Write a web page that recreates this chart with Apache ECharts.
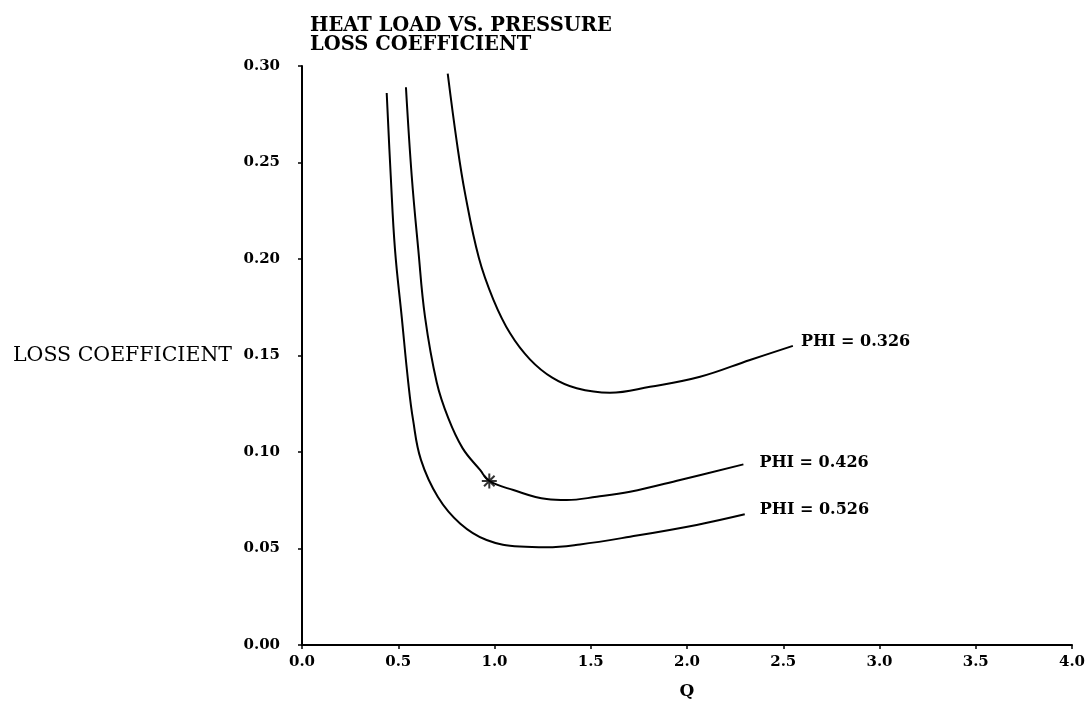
<!DOCTYPE html>
<html>
<head>
<meta charset="utf-8">
<script src="https://cdn.jsdelivr.net/npm/echarts@6/dist/echarts.min.js"></script>
<style>html,body{margin:0;padding:0;background:#fff;}#c{width:1092px;height:717px;}</style>
</head>
<body>
<div id="c"></div>
<script>
const titleLines = ["HEAT LOAD VS. PRESSURE", "LOSS COEFFICIENT"];
const xName = "Q";
const yName = "LOSS COEFFICIENT";
const seriesNames = ["PHI = 0.326", "PHI = 0.426", "PHI = 0.526"];
const phi0326 = [[0.757,0.296],[0.805,0.260],[0.847,0.234],[0.919,0.2005],[0.994,0.179],[1.081,0.1615],[1.184,0.148],[1.30,0.1385],[1.427,0.133],[1.60,0.1307],[1.808,0.1338],[2.068,0.139],[2.327,0.1477],[2.55,0.155]];
const phi0426 = [[0.540,0.289],[0.570,0.243],[0.604,0.205],[0.639,0.170],[0.700,0.136],[0.760,0.1175],[0.834,0.102],[0.925,0.0907],[0.973,0.085],[1.098,0.0803],[1.271,0.0756],[1.375,0.0751],[1.531,0.0768],[1.704,0.0794],[1.964,0.0855],[2.293,0.0936]];
const phi0526 = [[0.440,0.286],[0.461,0.243],[0.483,0.205],[0.518,0.170],[0.552,0.136],[0.577,0.1166],[0.618,0.0959],[0.706,0.0767],[0.821,0.063],[0.959,0.0544],[1.132,0.051],[1.271,0.0506],[1.444,0.0521],[1.704,0.0561],[2.05,0.0622],[2.30,0.0677]];
const starPoint = [[0.973,0.085]];
const xTicks = { min: 0, max: 4, interval: 0.5 };
const yTicks = { min: 0, max: 0.30, interval: 0.05 };

const FONT = "DejaVu Serif";
const chart = echarts.init(document.getElementById('c'), null, {renderer: 'canvas'});

function curve(name, data, dist, dy) {
  return {
    type: 'line', name: name, data: data, smooth: 0.4,
    showSymbol: false, symbol: 'none',
    lineStyle: { color: '#000', width: 2 },
    endLabel: { show: true, formatter: name, distance: dist, offset: [0, dy],
      color: '#000', fontFamily: FONT, fontWeight: 'bold', fontSize: 16 },
    animation: false, z: 3
  };
}

chart.setOption({
  animation: false,
  backgroundColor: '#fff',
  title: {
    text: titleLines.join('\n'), left: 305, top: 11,
    textStyle: { fontFamily: FONT, fontWeight: 'bold', fontSize: 19.5, lineHeight: 19, color: '#000' }
  },
  grid: { left: 302, right: 20, top: 66, bottom: 72, containLabel: false },
  xAxis: {
    type: 'value', min: xTicks.min, max: xTicks.max, interval: xTicks.interval,
    name: xName, nameLocation: 'middle', nameGap: 38,
    nameTextStyle: { fontFamily: FONT, fontWeight: 'bold', fontSize: 17, color: '#000' },
    axisLine: { show: true, lineStyle: { color: '#000', width: 2 } },
    axisTick: { show: true, inside: false, length: 4, lineStyle: { color: '#000', width: 1.5 } },
    axisLabel: { formatter: v => v.toFixed(1), fontFamily: FONT, fontWeight: 'bold', fontSize: 15, color: '#000', margin: 10 },
    splitLine: { show: false }
  },
  yAxis: {
    type: 'value', min: yTicks.min, max: yTicks.max, interval: yTicks.interval,
    name: yName, nameLocation: 'middle', nameRotate: 0, nameGap: 70,
    nameTextStyle: { fontFamily: FONT, fontSize: 20.5, color: '#000', align: 'right', verticalAlign: 'middle', padding: [0, 0, 8, 0] },
    axisLine: { show: true, lineStyle: { color: '#000', width: 2 } },
    axisTick: { show: true, inside: false, length: 4, lineStyle: { color: '#000', width: 1.5 } },
    axisLabel: { formatter: v => v.toFixed(2), fontFamily: FONT, fontWeight: 'bold', fontSize: 15, color: '#000', margin: 22 },
    splitLine: { show: false }
  },
  series: [
    curve(seriesNames[0], phi0326, 8, -4),
    curve(seriesNames[1], phi0426, 16, -2),
    curve(seriesNames[2], phi0526, 15, -4),
    {
      type: 'scatter', data: starPoint, symbolSize: 15,
      symbol: 'path://M10,0 L10,20 M0,10 L20,10 M3,3 L17,17 M3,17 L17,3',
      itemStyle: { color: 'rgba(0,0,0,0)', borderColor: '#000', borderWidth: 2 },
      z: 5, animation: false
    }
  ]
});
</script>
</body>
</html>
